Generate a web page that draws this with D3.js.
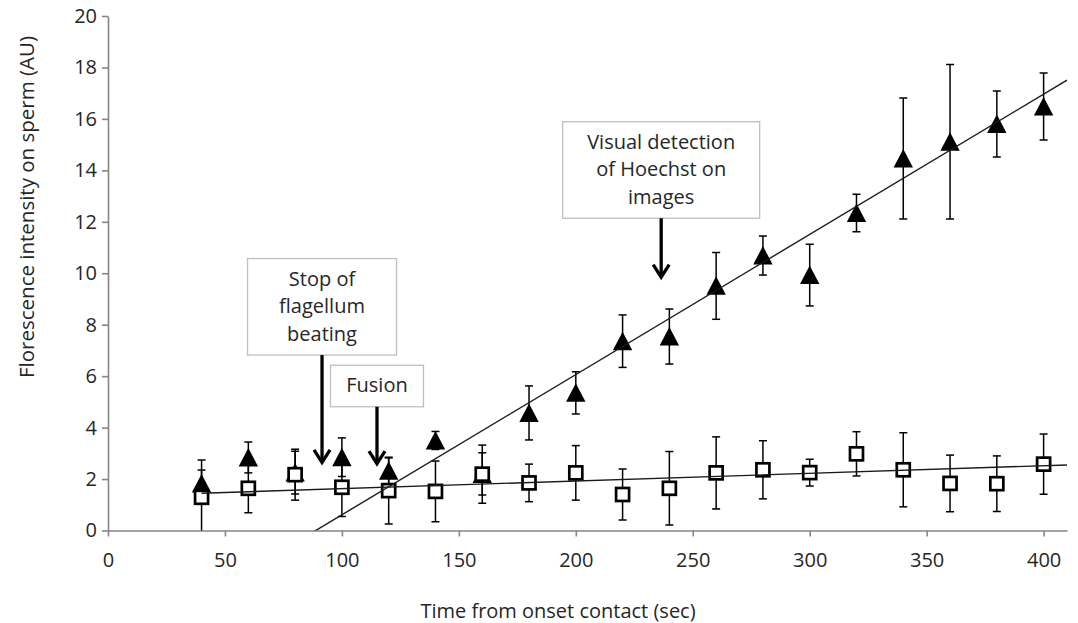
<!DOCTYPE html>
<html>
<head>
<meta charset="utf-8">
<script src="https://cdn.jsdelivr.net/npm/d3@7"></script>
<style>
    body {margin: 0; background: #fff;}
    svg {display: block; font-family: "Open Sans", sans-serif;}
</style>
</head>
<body>
<svg id="plot" width="1078" height="623"></svg>
<script>
// time points (sec)
const times = [40, 60, 80, 100, 120, 140, 160, 180, 200, 220, 240, 260, 280, 300, 320, 340, 360, 380, 400];

// filled triangles
const triMean = [1.83, 2.84, 2.25, 2.85, 2.32, 3.5, 2.2, 4.57, 5.35, 7.36, 7.54, 9.51, 10.69, 9.93, 12.34, 14.46, 15.11, 15.8, 16.48];
const triErr = [0.52, 0.6, 0.83, 0.75, 0.5, 0.35, 0.82, 1.05, 0.82, 1.02, 1.07, 1.3, 0.76, 1.2, 0.73, 2.35, 3.0, 1.28, 1.3];

// open squares
const sqMean = [1.29, 1.64, 2.17, 1.68, 1.55, 1.52, 2.19, 1.85, 2.24, 1.4, 1.64, 2.24, 2.36, 2.25, 2.98, 2.36, 1.83, 1.82, 2.58];
const sqErr = [1.45, 0.95, 0.99, 1.14, 1.3, 1.18, 1.13, 0.73, 1.06, 0.99, 1.43, 1.4, 1.13, 0.52, 0.86, 1.44, 1.1, 1.08, 1.17];

// linear trend lines: [slope, intercept]
const triFit = [0.0545, -4.84];
const sqFit = [0.00297, 1.33];
const fitRange = [40, 410];

// axis ticks
const xTicks = [0, 50, 100, 150, 200, 250, 300, 350, 400];
const yTicks = [0, 2, 4, 6, 8, 10, 12, 14, 16, 18, 20];

// annotations: text lines, arrow time, arrow tip value, box bottom value
const noteText = [["Stop of", "flagellum", "beating"], ["Fusion"], ["Visual detection", "of Hoechst on", "images"]];
const noteTime = [91.5, 115, 236.5];
const noteTip = [2.65, 2.6, 9.85];
const noteBase = [6.82, 4.81, 12.14];

const svg = d3.select("#plot");
const axisGray = "#868686";
const textCol = "#262626";

const x = d3.scaleLinear().domain([0, 410]).range([108, 1067]);
const y = d3.scaleLinear().domain([0, 20]).range([530.5, 16]);

svg.append("defs").append("clipPath").attr("id", "clip")
    .append("rect")
        .attr("x", x(0))
        .attr("y", y(20))
        .attr("width", x(410) - x(0))
        .attr("height", y(0) - y(20));

//axes
const xAxis = svg.append("g")
    .attr("transform", "translate(0," + y(0) + ")")
    .call(d3.axisBottom(x).tickValues(xTicks).tickSize(6).tickSizeOuter(0).tickPadding(16));

const yAxis = svg.append("g")
    .attr("transform", "translate(" + x(0) + ",0)")
    .call(d3.axisLeft(y).tickValues(yTicks).tickSize(6).tickSizeOuter(0).tickPadding(5));

[xAxis, yAxis].forEach(function(g) {
    g.select(".domain").attr("stroke", axisGray).attr("stroke-width", 1.6);
    g.selectAll(".tick line").attr("stroke", axisGray).attr("stroke-width", 1.6);
    g.selectAll(".tick text")
        .attr("fill", textCol)
        .attr("font-size", "20px")
        .attr("font-family", "Open Sans");
});

//axis titles
svg.append("text")
    .attr("x", 558)
    .attr("y", 618)
    .attr("text-anchor", "middle")
    .attr("font-size", "20px")
    .attr("fill", textCol)
    .text("Time from onset contact (sec)");

svg.append("text")
    .attr("transform", "translate(34,207) rotate(-90)")
    .attr("text-anchor", "middle")
    .attr("font-size", "20.5px")
    .attr("fill", textCol)
    .text("Florescence intensity on sperm (AU)");

const plot = svg.append("g").attr("clip-path", "url(#clip)");

function errorBars(means, errs) {
    const g = plot.append("g").attr("stroke", "#000").attr("stroke-width", 1.5);
    times.forEach(function(t, i) {
        const cx = x(t);
        const top = y(means[i] + errs[i]);
        const bot = y(means[i] - errs[i]);
        g.append("line").attr("x1", cx).attr("x2", cx).attr("y1", top).attr("y2", bot);
        g.append("line").attr("x1", cx - 4).attr("x2", cx + 4).attr("y1", top).attr("y2", top);
        g.append("line").attr("x1", cx - 4).attr("x2", cx + 4).attr("y1", bot).attr("y2", bot);
    });
}

// triangles
errorBars(triMean, triErr);
plot.selectAll("path.tri")
    .data(times)
    .enter()
    .append("path")
        .attr("class", "tri")
        .attr("d", function(t, i) {
            const cx = x(t), cy = y(triMean[i]);
            return "M" + cx + "," + (cy - 9.5) + "L" + (cx + 9.7) + "," + (cy + 9) + "L" + (cx - 9.7) + "," + (cy + 9) + "Z";
        })
        .attr("fill", "#000");

// squares
errorBars(sqMean, sqErr);
plot.selectAll("rect.sq")
    .data(times)
    .enter()
    .append("rect")
        .attr("class", "sq")
        .attr("x", function(t) {return x(t) - 6.5})
        .attr("y", function(t, i) {return y(sqMean[i]) - 6.5})
        .attr("width", 13)
        .attr("height", 13)
        .attr("fill", "#fff")
        .attr("stroke", "#000")
        .attr("stroke-width", 2.7);

// trend lines
[triFit, sqFit].forEach(function(f) {
    plot.append("line")
        .attr("x1", x(fitRange[0]))
        .attr("y1", y(f[0] * fitRange[0] + f[1]))
        .attr("x2", x(fitRange[1]))
        .attr("y2", y(f[0] * fitRange[1] + f[1]))
        .attr("stroke", "#1a1a1a")
        .attr("stroke-width", 1.4);
});

// annotation boxes + arrows
const boxW = [149, 93, 197];
const lineH = 27.5;
noteText.forEach(function(lines, i) {
    const cx = x(noteTime[i]);
    const bottom = y(noteBase[i]);
    const h = lines.length * lineH + 14;
    const top = bottom - h;
    svg.append("rect")
        .attr("x", cx - boxW[i] / 2)
        .attr("y", top)
        .attr("width", boxW[i])
        .attr("height", h)
        .attr("fill", "#fff")
        .attr("stroke", "#bfbfbf")
        .attr("stroke-width", 1.3);
    lines.forEach(function(s, j) {
        svg.append("text")
            .attr("x", cx)
            .attr("y", top + 27 + j * lineH)
            .attr("text-anchor", "middle")
            .attr("font-size", "20px")
            .attr("fill", textCol)
            .text(s);
    });
    const tip = y(noteTip[i]);
    svg.append("line")
        .attr("x1", cx).attr("x2", cx)
        .attr("y1", bottom).attr("y2", tip - 1.5)
        .attr("stroke", "#000")
        .attr("stroke-width", 3.3);
    svg.append("path")
        .attr("d", "M" + (cx - 8) + "," + (tip - 12.5) + "L" + cx + "," + tip + "L" + (cx + 8) + "," + (tip - 12.5))
        .attr("fill", "none")
        .attr("stroke", "#000")
        .attr("stroke-width", 3.3)
        .attr("stroke-linejoin", "miter");
});
</script>
</body>
</html>
